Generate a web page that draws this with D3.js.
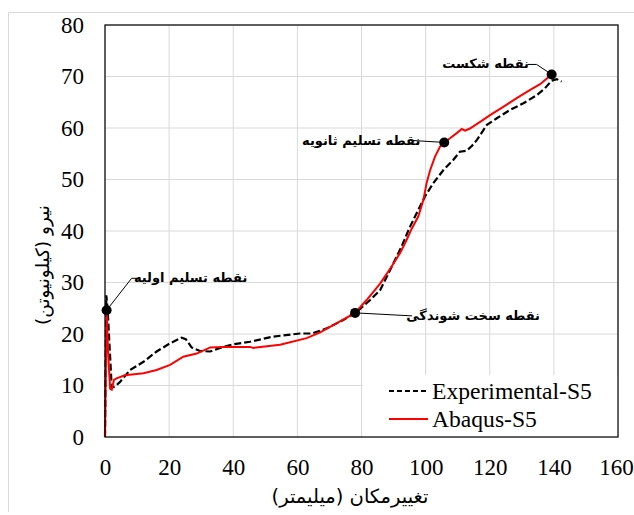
<!DOCTYPE html>
<html>
<head>
<meta charset="utf-8">
<script src="https://cdn.jsdelivr.net/npm/d3@7"></script>
<style>
  body { margin: 0; background: #fff; }
  svg text { font-family: "Liberation Serif", "Times New Roman", serif; }
  .fa { font-family: "DejaVu Sans", sans-serif; }
</style>
</head>
<body>
<div id="chart"></div>
<script>
// displacement (mm) / force (kN)
const expX = [0, 0.4, 0.8, 2.1, 3.1, 4.7, 7.8, 12, 16.1, 20.3, 23.9, 25.2, 27, 29.6, 32.8, 35.9, 40, 45.2, 52.5, 60.8, 64.5, 69.2, 74.3, 78.5, 82.7, 85.8, 88.9, 92.5, 95.1, 97.7, 99.8, 102.4, 105.5, 108.6, 110.7, 112.8, 114.4, 116, 119.1, 122.2, 126.3, 130.5, 134.7, 137.2, 139.3, 140.9, 142.4];
const expY = [0, 27.5, 25, 9.6, 9.8, 10.7, 13.0, 14.6, 16.6, 18.2, 19.3, 19.0, 17.4, 16.7, 16.6, 17.3, 18.0, 18.5, 19.5, 20.1, 20.1, 21.1, 22.7, 24.3, 26.6, 28.5, 32.4, 37.0, 40.8, 44.1, 46.7, 49.3, 51.8, 53.8, 55.4, 55.6, 56.5, 57.7, 60.6, 61.9, 63.5, 64.8, 66.4, 67.7, 69.2, 69.5, 69.0];

const absX = [0, 0.5, 1.0, 1.6, 2.1, 2.8, 3.6, 6.2, 12, 16.1, 20.3, 24.4, 28.6, 32.8, 36.9, 45.2, 46.3, 54.6, 62.9, 67.1, 72.3, 78, 81.6, 85.8, 89.4, 92, 94.1, 95.7, 97.7, 99.3, 100.3, 101.4, 102.9, 104.5, 105.8, 107.6, 109.7, 111.3, 112.3, 113.8, 117, 120.1, 124.2, 128.4, 132.6, 135.7, 139.3];
const absY = [0, 24.6, 16, 9.4, 9.2, 11.1, 11.4, 12.0, 12.4, 13.0, 14.0, 15.6, 16.2, 17.4, 17.5, 17.5, 17.3, 17.9, 19.2, 20.3, 22.1, 24.1, 26.6, 29.8, 33.1, 35.7, 38.3, 40.5, 42.8, 46.0, 49.3, 51.8, 54.4, 56.4, 57.2, 58.0, 59.0, 59.8, 59.5, 59.9, 61.2, 62.5, 64.1, 65.8, 67.4, 68.5, 70.4];

const xTicks = [0, 20, 40, 60, 80, 100, 120, 140, 160];
const yTicks = [0, 10, 20, 30, 40, 50, 60, 70, 80];

const seriesNames = ["Experimental-S5", "Abaqus-S5"];

const markX = [0.5, 78, 105.8, 139.3];
const markY = [24.6, 24.1, 57.2, 70.4];
const markLabels = ["نقطه تسلیم اولیه", "نقطه سخت شوندگی", "نقطه تسلیم ثانویه", "نقطه شکست"];

const W = 634, H = 515;
const plot = { left: 105, top: 25, right: 618, bottom: 437 };

const svg = d3.select("#chart").append("svg")
  .attr("width", W).attr("height", H);

// outer chart border (only left / top edges fall inside the picture)
svg.append("path")
  .attr("d", "M8.5,512V12.5H640")
  .attr("fill", "none").attr("stroke", "#d9d9d9");

const x = d3.scaleLinear().domain([0, 160]).range([plot.left, plot.right]);
const y = d3.scaleLinear().domain([0, 80]).range([plot.bottom, plot.top]);

// gridlines
svg.append("g")
  .selectAll("line.vx")
  .data(xTicks)
  .enter().append("line")
  .attr("x1", d => x(d)).attr("x2", d => x(d))
  .attr("y1", plot.top).attr("y2", plot.bottom)
  .attr("stroke", "#d9d9d9").attr("stroke-width", 1);

svg.append("g")
  .selectAll("line.hy")
  .data(yTicks)
  .enter().append("line")
  .attr("x1", plot.left).attr("x2", plot.right)
  .attr("y1", d => y(d)).attr("y2", d => y(d))
  .attr("stroke", "#d9d9d9").attr("stroke-width", 1);

// axes (labels only)
const xAxis = svg.append("g")
  .attr("transform", "translate(0," + plot.bottom + ")")
  .call(d3.axisBottom(x).tickValues(xTicks).tickSize(0).tickPadding(22));
xAxis.select(".domain").remove();
xAxis.selectAll("text").attr("font-size", 23).attr("fill", "#000")
  .style("font-family", "Liberation Serif")
  .attr("dx", d => d === 160 ? -2 : 0);

const yAxis = svg.append("g")
  .attr("transform", "translate(" + plot.left + ",0)")
  .call(d3.axisLeft(y).tickValues(yTicks).tickSize(0).tickPadding(21));
yAxis.select(".domain").remove();
yAxis.selectAll("text").attr("font-size", 23).attr("fill", "#000")
  .style("font-family", "Liberation Serif");

const line = d3.line().x(d => x(d[0])).y(d => y(d[1]));

const expData = expX.map((v, i) => [v, expY[i]]);
const absData = absX.map((v, i) => [v, absY[i]]);

svg.append("path")
  .datum(expData)
  .attr("d", line)
  .attr("fill", "none")
  .attr("stroke", "#000")
  .attr("stroke-width", 2.2)
  .attr("stroke-dasharray", "7,3");

svg.append("path")
  .datum(absData)
  .attr("d", line)
  .attr("fill", "none")
  .attr("stroke", "#ff0000")
  .attr("stroke-width", 2);

// legend
const leg = svg.append("g");
leg.append("rect")
  .attr("x", 363).attr("y", 375)
  .attr("width", plot.right - 363).attr("height", plot.bottom - 375)
  .attr("fill", "#fff");
leg.append("line")
  .attr("x1", 389).attr("x2", 428).attr("y1", 391).attr("y2", 391)
  .attr("stroke", "#000").attr("stroke-width", 2.2).attr("stroke-dasharray", "5,3");
leg.append("line")
  .attr("x1", 389).attr("x2", 428).attr("y1", 419).attr("y2", 419)
  .attr("stroke", "#ff0000").attr("stroke-width", 2);
leg.selectAll("text.lg")
  .data(seriesNames)
  .enter().append("text")
  .attr("x", 432)
  .attr("y", (d, i) => 399 + i * 28)
  .attr("font-size", 23.6)
  .text(d => d);

// plot frame
svg.append("rect")
  .attr("x", plot.left).attr("y", plot.top)
  .attr("width", plot.right - plot.left).attr("height", plot.bottom - plot.top)
  .attr("fill", "none").attr("stroke", "#000").attr("stroke-width", 1.2);

// annotations: leader line points and text centre, relative to the marker
const leaders = [
  { pts: [[0, 0], [25, -32], [33, -32]], tx: 84, ty: -33 },
  { pts: [[0, 0], [57, 3]], tx: 118, ty: 3 },
  { pts: [[0, 0], [-33, -2]], tx: -83, ty: -2 },
  { pts: [[0, 0], [-15, -10], [-24, -10]], tx: -66, ty: -11 }
];

markX.forEach((mx, i) => {
  const cx = x(mx), cy = y(markY[i]);
  const L = leaders[i];
  svg.append("path")
    .attr("d", d3.line()(L.pts.map(p => [cx + p[0], cy + p[1]])))
    .attr("fill", "none").attr("stroke", "#000").attr("stroke-width", 1);
  svg.append("circle")
    .attr("cx", cx).attr("cy", cy).attr("r", 5)
    .attr("fill", "#000");
  svg.append("text")
    .attr("class", "fa")
    .attr("x", cx + L.tx).attr("y", cy + L.ty)
    .attr("text-anchor", "middle")
    .attr("dominant-baseline", "central")
    .attr("font-size", 13)
    .attr("font-weight", "bold")
    .text(markLabels[i]);
});

// axis titles
svg.append("text")
  .attr("class", "fa")
  .attr("x", 350).attr("y", 496)
  .attr("text-anchor", "middle")
  .attr("dominant-baseline", "central")
  .attr("font-size", 19.5)
  .text("تغییرمکان (میلیمتر)");

svg.append("text")
  .attr("class", "fa")
  .attr("transform", "translate(42,265) rotate(-90)")
  .attr("text-anchor", "middle")
  .attr("dominant-baseline", "central")
  .attr("font-size", 18.5)
  .text("نیرو (کیلونیوتن)");
</script>
</body>
</html>
